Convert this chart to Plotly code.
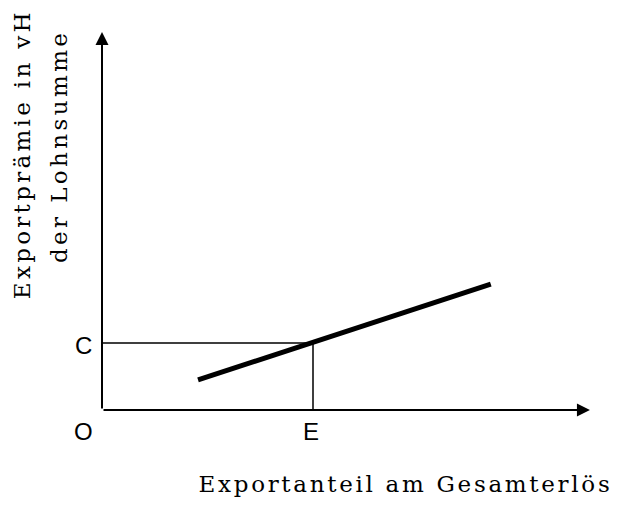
import json
import plotly.graph_objects as go

# Data (abstract units of the diagram)
origin = (0.0, 0.0)
point_E = 4.0            # Exportanteil at E
point_C = 2.0            # Exportprämie at C
line_x = [1.82, 7.37]    # Exportanteil values of the schedule
line_y = [0.90, 3.76]    # Exportprämie values of the schedule
x_axis_end = 9.25
y_axis_end = 11.28

x_title = "Exportanteil am Gesamterlös"
y_title_lines = ["Exportprämie in vH", "der Lohnsumme"]
point_labels = ["O", "C", "E"]

fig = go.Figure()

# thin guide lines at C and E
fig.add_trace(go.Scatter(x=[origin[0], point_E, point_E], y=[point_C, point_C, origin[1]],
                         mode="lines", line=dict(color="black", width=1.5),
                         hoverinfo="skip", showlegend=False))
# thick schedule
fig.add_trace(go.Scatter(x=line_x, y=line_y, mode="lines",
                         line=dict(color="black", width=5),
                         hoverinfo="skip", showlegend=False))

# axes with arrowheads
for (tx, ty) in [(x_axis_end, origin[1]), (origin[0], y_axis_end)]:
    fig.add_annotation(x=tx, y=ty, ax=origin[0], ay=origin[1], xref="x", yref="y",
                       axref="x", ayref="y", showarrow=True, arrowhead=2,
                       arrowsize=1.3, arrowwidth=2, arrowcolor="black", text="",
                       standoff=0, startstandoff=0)

label_font = dict(family="Liberation Sans, Arial, sans-serif", size=24, color="black")
fig.add_annotation(x=origin[0], y=origin[1], text=point_labels[0], showarrow=False,
                   xshift=-19, yshift=-21, font=label_font)
fig.add_annotation(x=origin[0], y=point_C, text=point_labels[1], showarrow=False,
                   xshift=-19, yshift=-2, font=label_font)
fig.add_annotation(x=point_E, y=origin[1], text=point_labels[2], showarrow=False,
                   xshift=-2, yshift=-21, font=label_font)

serif = "DejaVu Serif, serif"
fig.add_annotation(xref="paper", yref="paper", x=0.646, y=0.042, text=x_title,
                   showarrow=False, font=dict(family=serif, size=23, color="black"),
                   xanchor="center", yanchor="middle")
fig.add_annotation(xref="paper", yref="paper", x=0.035, y=0.696, text=y_title_lines[0],
                   showarrow=False, font=dict(family=serif, size=23, color="black"),
                   textangle=-90, xanchor="center", yanchor="middle")
fig.add_annotation(xref="paper", yref="paper", x=0.094, y=0.709, text=y_title_lines[1],
                   showarrow=False, font=dict(family=serif, size=23, color="black"),
                   textangle=-90, xanchor="center", yanchor="middle")

sx = 52.75
sy = 33.5
fig.update_layout(
    width=628, height=505,
    margin=dict(l=0, r=0, t=0, b=0),
    paper_bgcolor="white", plot_bgcolor="white",
    xaxis=dict(range=[-102 / sx, (628 - 102) / sx], visible=False, fixedrange=True),
    yaxis=dict(range=[-(505 - 410) / sy, 410 / sy], visible=False, fixedrange=True),
    showlegend=False,
)

# wider letter spacing of the typewriter-like titles
spacing = {x_title: 2.7, y_title_lines[0]: 3.3, y_title_lines[1]: 3.4}
post = (
    "document.body.style.margin='0';document.body.style.overflow='hidden';"
    "var gd=document.getElementById('{plot_id}');var SP=" + json.dumps(spacing) + ";"
    "function sp(){gd.querySelectorAll('text.annotation-text').forEach(function(t){"
    "var s=SP[t.textContent];if(s!==undefined){t.style.letterSpacing=s+'px';}});}"
    "sp();setTimeout(sp,30);setTimeout(sp,300);if(gd.on){gd.on('plotly_afterplot',sp);}"
)
fig.write_html("out.html", config={"displayModeBar": False}, post_script=post)
